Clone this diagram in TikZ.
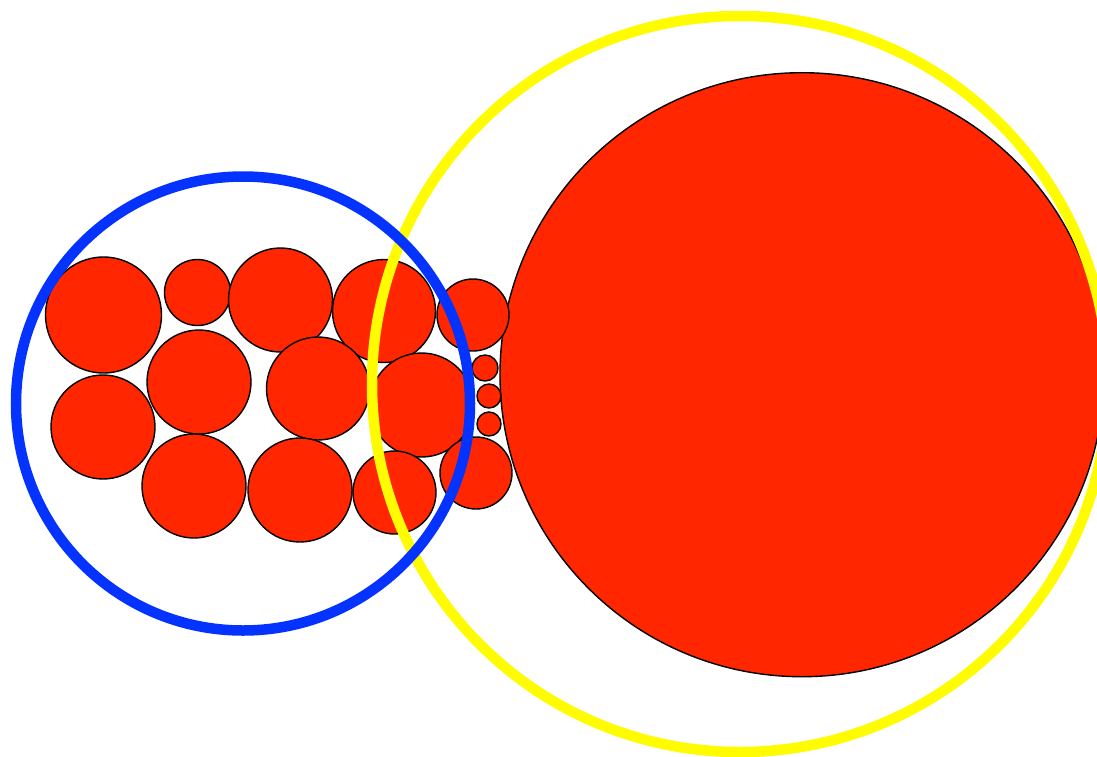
\documentclass[tikz,border=0pt]{standalone}
\definecolor{ballred}{HTML}{FF2600}
\definecolor{ringblue}{HTML}{0433FF}
\definecolor{ringyellow}{HTML}{FFFB00}
\tikzset{
  ball/.style={circle, draw=black, line width=1.4pt, fill=ballred, inner sep=0pt, outer sep=0pt},
  ring/.style={circle, line width=10.5pt, inner sep=0pt, fill=none},
}
\begin{document}
\begin{tikzpicture}[x=1pt,y=-1pt]
\useasboundingbox (0,0) rectangle (1097,756);
\fill[white] (0,0) rectangle (1097,756);
% big ball
\node[ball, minimum size=604pt] (big) at (802,374.7) {};
% small balls
\node[ball, minimum size=116pt] (b1) at (103.5,315) {};
\node[ball, minimum size=66pt] (b2) at (197.5,292.5) {};
\node[ball, minimum size=104pt] (b3) at (280.5,300) {};
\node[ball, minimum size=103pt] (b4) at (384,311) {};
\node[ball, minimum size=72pt] (b5) at (473,315) {};
\node[ball, minimum size=104pt] (b6) at (199,382) {};
\node[ball, minimum size=103pt] (b7) at (318,388.5) {};
\node[ball, minimum size=104pt] (b8) at (421.5,405) {};
\node[ball, minimum size=26pt] (s1) at (485,368) {};
\node[ball, minimum size=24pt] (s2) at (489,396) {};
\node[ball, minimum size=24pt] (s3) at (489,424) {};
\node[ball, minimum size=104pt] (b9) at (103,427) {};
\node[ball, minimum size=104pt] (b10) at (194,486) {};
\node[ball, minimum size=104pt] (b11) at (300,490) {};
\node[ball, minimum size=83pt] (b12) at (394.5,492.5) {};
\node[ball, minimum size=72pt] (b13) at (476,473) {};
% rings
\node[ring, draw=ringyellow, minimum size=736pt] (yellow) at (740,384) {};
\node[ring, draw=ringblue, minimum size=454pt] (blue) at (243,403.5) {};
\end{tikzpicture}
\end{document}
